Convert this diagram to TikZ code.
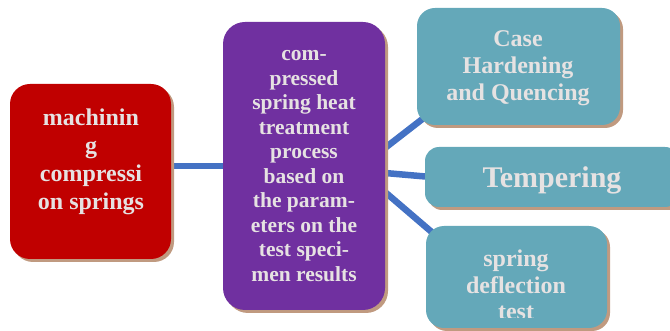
\documentclass[tikz,border=0pt]{standalone}
\usepackage{fontspec}
\setmainfont{Liberation Serif}
\usetikzlibrary{shadows,backgrounds}
\definecolor{boxred}{HTML}{C00000}
\definecolor{boxpurple}{HTML}{7030A0}
\definecolor{boxteal}{HTML}{64A8B9}
\definecolor{shadowtan}{HTML}{C09A80}
\definecolor{linkblue}{HTML}{4472C4}
\definecolor{labelgray}{HTML}{E6E2E2}

\begin{document}
\begin{tikzpicture}[x=1pt,y=-1pt,
  card/.style={inner sep=0pt, outer sep=0pt,
    drop shadow={shadow xshift=3pt, shadow yshift=-3pt, fill=shadowtan, opacity=1}},
  caption/.style={text=labelgray, align=center, inner sep=0pt},
  link/.style={draw=linkblue, line width=6.5pt}]
\useasboundingbox (0,0) rectangle (670,331);
\clip (0,0) rectangle (670,331);

% boxes
\node[card, fill=boxred, rounded corners=20pt, minimum width=161pt, minimum height=175pt]
  (machining) at (90.5,171.5) {};
\node[card, fill=boxpurple, rounded corners=22pt, minimum width=162pt, minimum height=288pt]
  (heat) at (304,166) {};
\node[card, fill=boxteal, rounded corners=18pt, minimum width=203pt, minimum height=117pt]
  (hardening) at (518.5,66.5) {};
\node[card, fill=boxteal, rounded corners=14pt, minimum width=254pt, minimum height=60pt]
  (tempering) at (552,177) {};
\node[card, fill=boxteal, rounded corners=18pt, minimum width=181pt, minimum height=102pt]
  (deflection) at (516.5,277) {};

% texts
\node[caption, font=\bfseries\fontsize{24}{28}\selectfont] (machiningtext) at (91,161.5)
  {machinin\\g\\compressi\\on springs};
\node[caption, font=\bfseries\fontsize{21.5}{24.5}\selectfont] (heattext) at (304,166)
  {com-\\pressed\\spring heat\\treatment\\process\\based on\\the param-\\eters on the\\test speci-\\men results};
\node[caption, font=\bfseries\fontsize{24}{27}\selectfont] (hardeningtext) at (518,68)
  {Case\\Hardening\\and Quencing};
\node[caption, font=\bfseries\fontsize{30}{34}\selectfont] (temperingtext) at (552,180)
  {Tempering};
% the last line of this label is cut by the text frame
\begin{scope}
  \clip (0,0) rectangle (670,317.5);
  \node[caption, font=\bfseries\fontsize{24}{26.5}\selectfont] (deflectiontext) at (516,285)
    {spring\\deflection\\test};
\end{scope}

% connectors, behind the boxes
\begin{pgfonlayer}{background}
  \draw[link] (heat.west) -- (heat.west -| machining.east);
  \draw[link] ([yshift=18pt]heat.east) -- ([xshift=8pt,yshift=8pt]hardening.south west);
  \draw[link] ([yshift=-7pt]heat.east) -- ([xshift=6pt]tempering.west);
  \draw[link] ([yshift=-26pt]heat.east) -- ([xshift=8pt,yshift=-8pt]deflection.north west);
\end{pgfonlayer}
\end{tikzpicture}
\end{document}
